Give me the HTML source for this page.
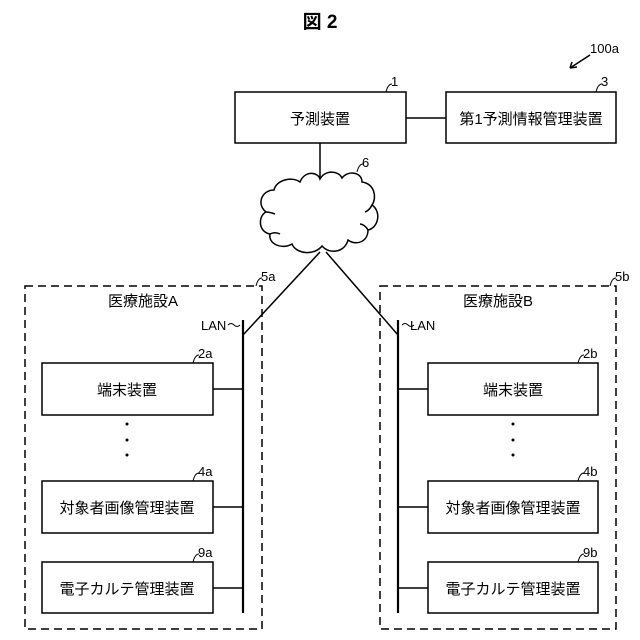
<!DOCTYPE html>
<html><head><meta charset="utf-8"><style>
html,body{margin:0;padding:0;background:#fff}
svg{display:block}
text{font-family:"Liberation Sans","Noto Sans CJK JP",sans-serif;fill:#000}
</style></head><body>
<svg width="640" height="640" viewBox="0 0 640 640" xmlns="http://www.w3.org/2000/svg">
<g stroke="#000" fill="none" stroke-width="1.5">
<text x="320" y="28" font-size="19" text-anchor="middle" stroke="none" font-weight="bold">図 2</text>
<line x1="590" y1="55" x2="570" y2="68"/>
<path d="M570 68 l7 -1 M570 68 l2 -6"/>
<rect x="235" y="92" width="171" height="51"/>
<rect x="446" y="92" width="170" height="51"/>
<line x1="406" y1="118" x2="446" y2="118"/>
<line x1="320" y1="143" x2="320" y2="178"/>
<path d="M300 182 C305 170 318 172 320 179 C325 170 338 170 342 178 C348 170 362 172 362 182 C375 184 377 198 372 205 C382 212 378 228 368 230 C368 242 356 246 348 240 C345 252 330 255 322 246 C314 256 296 254 292 244 C282 250 268 244 270 234 C258 232 258 216 266 212 C256 204 262 190 274 190 C276 180 292 176 300 182 Z"/>
<path d="M270 234 C274 232 278 233 280 234 M266 212 C270 212 272 213 275 214 M372 205 C370 209 368 211 365 212 M368 230 C366 226 362 224 360 224"/>
<line x1="320" y1="252" x2="243" y2="335"/>
<line x1="326" y1="252" x2="398" y2="335"/>
<rect x="25" y="286" width="237" height="343" stroke-dasharray="8,5"/>
<rect x="380" y="286" width="236" height="343" stroke-dasharray="8,5"/>
<line x1="243" y1="320" x2="243" y2="613" stroke-width="2.2"/>
<line x1="398" y1="320" x2="398" y2="613" stroke-width="2.2"/>
<rect x="42" y="363" width="171" height="52"/>
<rect x="42" y="481" width="171" height="52"/>
<rect x="42" y="562" width="171" height="51"/>
<line x1="213" y1="389" x2="243" y2="389"/>
<line x1="213" y1="507" x2="243" y2="507"/>
<line x1="213" y1="588" x2="243" y2="588"/>
<rect x="428" y="363" width="170" height="52"/>
<rect x="428" y="481" width="170" height="52"/>
<rect x="428" y="562" width="170" height="51"/>
<line x1="398" y1="389" x2="428" y2="389"/>
<line x1="398" y1="507" x2="428" y2="507"/>
<line x1="398" y1="588" x2="428" y2="588"/>
<path d="M386 92 q2 -8 6 -8 M596 92 q2 -8 6 -8 M357 172 q2 -8 6 -8 M256 286 q2 -8 6 -8 M610 286 q2 -8 6 -8 M193 363 q2 -8 6 -8 M578 363 q2 -8 6 -8 M193 481 q2 -8 6 -8 M578 481 q2 -8 6 -8 M193 562 q2 -8 6 -8 M578 562 q2 -8 6 -8" stroke-width="1"/>
<path d="M228 325 q3 -3 6 0 q3 3 6 0 M402 325 q3 -3 6 0 q3 3 6 0" stroke-width="1"/>
</g>
<g font-size="15" text-anchor="middle">
<text x="320" y="124">予測装置</text>
<text x="531" y="124">第1予測情報管理装置</text>
<text x="143" y="306">医療施設A</text>
<text x="498" y="306">医療施設B</text>
<text x="127" y="395">端末装置</text>
<text x="127" y="513">対象者画像管理装置</text>
<text x="127" y="594">電子カルテ管理装置</text>
<text x="513" y="395">端末装置</text>
<text x="513" y="513">対象者画像管理装置</text>
<text x="513" y="594">電子カルテ管理装置</text>
</g>
<g font-size="13">
<text x="590" y="53">100a</text>
<text x="391" y="86">1</text>
<text x="601" y="86">3</text>
<text x="362" y="167">6</text>
<text x="261" y="281">5a</text>
<text x="615" y="281">5b</text>
<text x="198" y="358">2a</text>
<text x="583" y="358">2b</text>
<text x="198" y="476">4a</text>
<text x="583" y="476">4b</text>
<text x="198" y="557">9a</text>
<text x="583" y="557">9b</text>
<text x="201" y="330">LAN</text>
<text x="410" y="330">LAN</text>
</g>
<g fill="#000">
<circle cx="127" cy="424" r="1.5"/><circle cx="127" cy="440" r="1.5"/><circle cx="127" cy="455" r="1.5"/>
<circle cx="513" cy="424" r="1.5"/><circle cx="513" cy="440" r="1.5"/><circle cx="513" cy="455" r="1.5"/>
</g>
</svg>
</body></html>
